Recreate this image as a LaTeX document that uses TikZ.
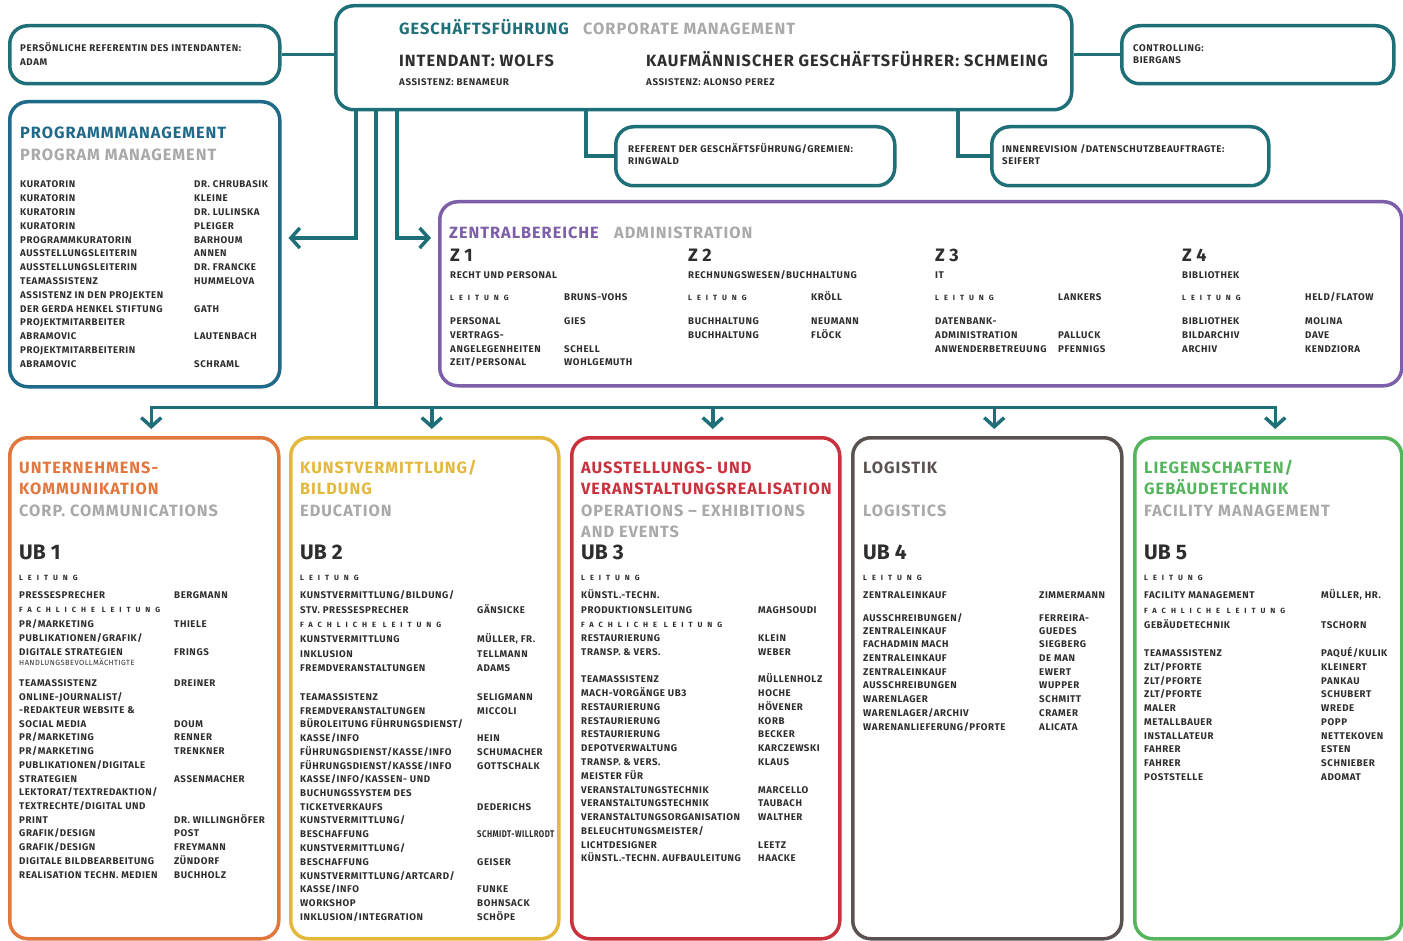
\documentclass[tikz,border=0pt]{standalone}
\usepackage{fontspec}
\usepackage{graphicx}
\setmainfont{Fira Sans}
\newfontfamily\spacedfont[LetterSpace=66]{Fira Sans}
\newfontfamily\rowfamily[LetterSpace=6]{Fira Sans}
\usetikzlibrary{arrows.meta}

\definecolor{gfteal}{HTML}{1E6F78}
\definecolor{pmblue}{HTML}{1F6A8A}
\definecolor{zbpurple}{HTML}{7D5EA8}
\definecolor{uborange}{HTML}{E2773D}
\definecolor{ubyellow}{HTML}{E3B83C}
\definecolor{ubred}{HTML}{C9313D}
\definecolor{ubdark}{HTML}{5A5250}
\definecolor{ubgreen}{HTML}{55B55C}
\definecolor{subgray}{HTML}{A9A9A9}
\definecolor{ink}{HTML}{2E2E2E}

\newcommand{\rowfont}{\rowfamily\fontsize{9.7}{11}\selectfont\bfseries}
\newcommand{\headfont}{\rowfamily\fontsize{16.3}{19}\selectfont\bfseries}
\newcommand{\spc}{\spacedfont\fontsize{7.5}{9}\selectfont\bfseries}
\newcommand{\tinyrow}{\rowfamily\fontsize{7.5}{8}\selectfont\mdseries}
% one column of text lines: name prefix, x, list of y/text
\newcommand{\textcol}[3]{\foreach \y/\txt in {#3} {\node[row] (#1-\y) at (#2,\y) {\txt};}}

\begin{document}
\begin{tikzpicture}[x=1pt, y=-1pt,
  box/.style={draw=#1, line width=3.5pt, rounded corners=18pt, fill=white, anchor=north west, inner sep=0pt},
  link/.style={draw=gfteal, line width=3.5pt},
  arr/.style={link, -{Straight Barb[length=9pt,width=20pt]}, shorten >=7pt},
  row/.style={anchor=west, inner sep=0pt, text=ink, font=\rowfont, text height=6.6pt, text depth=0pt},
  head/.style={anchor=west, inner sep=0pt, font=\headfont, text height=11.2pt, text depth=0pt},
  ubnum/.style={anchor=west, inner sep=0pt, text=ink, font=\fontsize{21}{24}\selectfont\bfseries, text height=14.5pt, text depth=0pt},
  znum/.style={ubnum, font=\fontsize{18}{20}\selectfont\bfseries, text height=12.4pt}]
\path[use as bounding box, fill=white] (0,0) rectangle (1403,941);

% top row
\node[box=gfteal, minimum width=270pt, minimum height=58pt] (pref) at (8,24) {};
\node[box=gfteal, minimum width=736pt, minimum height=104pt] (gf) at (334,4) {};
\node[box=gfteal, minimum width=272pt, minimum height=58pt] (ctrl) at (1120,24) {};
\node[box=gfteal, minimum width=279pt, minimum height=59pt] (ref) at (614,125) {};
\node[box=gfteal, minimum width=277pt, minimum height=59pt] (rev) at (990,125) {};
\node[box=pmblue, minimum width=270pt, minimum height=285pt] (pm) at (8,100) {};
\node[box=zbpurple, minimum width=962pt, minimum height=184pt] (zb) at (438,200) {};

% units
\node[box=uborange, minimum width=269pt, minimum height=501pt] (ub1) at (8,436) {};
\node[box=ubyellow, minimum width=268pt, minimum height=501pt] (ub2) at (289,436) {};
\node[box=ubred, minimum width=268pt, minimum height=501pt] (ub3) at (570,436) {};
\node[box=ubdark, minimum width=269pt, minimum height=501pt] (ub4) at (851,436) {};
\node[box=ubgreen, minimum width=267pt, minimum height=501pt] (ub5) at (1133,436) {};

% connectors
\draw[link] (pref.east) -- (pref.east -| gf.west);
\draw[link] (ctrl.west) -- (ctrl.west -| gf.east);
\draw[link] ([xshift=252pt]gf.south west) |- (ref.west);
\draw[link] ([xshift=624pt]gf.south west) |- (rev.west);
\draw[arr] ([xshift=22pt]gf.south west) |- ([yshift=-138pt]pm.north east);
\draw[arr] ([xshift=63pt]gf.south west) |- ([yshift=-38pt]zb.north west);
\draw[link] ([xshift=42pt]gf.south west) -- ++(0,296) coordinate (bus);
\foreach \u in {ub1,ub2,ub3,ub4,ub5}
  \draw[arr] (bus) -| ([xshift=7pt]\u.north);

% management
\node[head, text=gfteal] (gft) at (399,29) {GESCHÄFTSFÜHRUNG};
\node[head, text=subgray] (gfe) at (583,29) {CORPORATE MANAGEMENT};
\node[head, text=ink] (int) at (399,61) {INTENDANT: WOLFS};
\node[row] (inta) at (399,82) {ASSISTENZ: BENAMEUR};
\node[head, text=ink] (kfm) at (646,61) {KAUFMÄNNISCHER GESCHÄFTSFÜHRER: SCHMEING};
\node[row] (kfma) at (646,82) {ASSISTENZ: ALONSO PEREZ};
\textcol{pref}{20}{48/{PERSÖNLICHE REFERENTIN DES INTENDANTEN:}, 62/ADAM}
\textcol{ctrl}{1133}{48/CONTROLLING:, 60/BIERGANS}
\textcol{ref}{628}{149/{REFERENT DER GESCHÄFTSFÜHRUNG/GREMIEN:}, 161/RINGWALD}
\textcol{rev}{1002}{149/{INNENREVISION /DATENSCHUTZBEAUFTRAGTE:}, 161/SEIFERT}

% program management
\node[head, text=pmblue] (pmt) at (20,133) {PROGRAMMMANAGEMENT};
\node[head, text=subgray] (pme) at (20,155) {PROGRAM MANAGEMENT};
\textcol{pml}{20}{184/KURATORIN, 198/KURATORIN, 212/KURATORIN, 226/KURATORIN,
  240/PROGRAMMKURATORIN, 253/AUSSTELLUNGSLEITERIN, 267/AUSSTELLUNGSLEITERIN,
  281/TEAMASSISTENZ, 295/ASSISTENZ IN DEN PROJEKTEN, 309/DER GERDA HENKEL STIFTUNG,
  322/PROJEKTMITARBEITER, 336/ABRAMOVIC, 350/PROJEKTMITARBEITERIN, 364/ABRAMOVIC}
\textcol{pmn}{194}{184/DR. CHRUBASIK, 198/KLEINE, 212/DR. LULINSKA, 226/PLEIGER,
  240/BARHOUM, 253/ANNEN, 267/DR. FRANCKE, 281/HUMMELOVA, 309/GATH,
  336/LAUTENBACH, 364/SCHRAML}

% central departments
\node[head, text=zbpurple] (zbt) at (449,233) {ZENTRALBEREICHE};
\node[head, text=subgray] (zbe) at (614,233) {ADMINISTRATION};
\node[znum] (z1) at (450,255) {Z 1};
\node[znum] (z2) at (688,255) {Z 2};
\node[znum] (z3) at (935,255) {Z 3};
\node[znum] (z4) at (1182,255) {Z 4};
\textcol{z1l}{450}{275/RECHT UND PERSONAL, 297/{\spc LEITUNG}, 321/PERSONAL,
  335/VERTRAGS-, 349/ANGELEGENHEITEN, 362/{ZEIT/PERSONAL}}
\textcol{z1n}{564}{297/BRUNS-VOHS, 321/GIES, 349/SCHELL, 362/WOHLGEMUTH}
\textcol{z2l}{688}{275/{RECHNUNGSWESEN/BUCHHALTUNG}, 297/{\spc LEITUNG}, 321/BUCHHALTUNG, 335/BUCHHALTUNG}
\textcol{z2n}{811}{297/KRÖLL, 321/NEUMANN, 335/FLÖCK}
\textcol{z3l}{935}{275/IT, 297/{\spc LEITUNG}, 321/DATENBANK-, 335/ADMINISTRATION, 349/ANWENDERBETREUUNG}
\textcol{z3n}{1058}{297/LANKERS, 335/PALLUCK, 349/PFENNIGS}
\textcol{z4l}{1182}{275/BIBLIOTHEK, 297/{\spc LEITUNG}, 321/BIBLIOTHEK, 335/BILDARCHIV, 349/ARCHIV}
\textcol{z4n}{1305}{297/{HELD/FLATOW}, 321/MOLINA, 335/DAVE, 349/KENDZIORA}

% UB 1
\node[head, text=uborange] (ub1t) at (19,468) {UNTERNEHMENS-};
\node[head, text=uborange] (ub1u) at (19,489) {KOMMUNIKATION};
\node[head, text=subgray] (ub1e) at (19,511) {CORP. COMMUNICATIONS};
\node[ubnum] (ub1n) at (19,552) {UB 1};
\textcol{ub1l}{19}{577/{\spc LEITUNG}, 595/PRESSESPRECHER, 609/{\spc FACHLICHE LEITUNG},
  624/{PR/MARKETING}, 638/{PUBLIKATIONEN/GRAFIK/}, 652/DIGITALE STRATEGIEN,
  662/{\tinyrow HANDLUNGSBEVOLLMÄCHTIGTE}, 683/TEAMASSISTENZ, 697/{ONLINE-JOURNALIST/},
  710/{-REDAKTEUR WEBSITE \&}, 724/SOCIAL MEDIA, 737/{PR/MARKETING}, 751/{PR/MARKETING},
  765/{PUBLIKATIONEN/DIGITALE}, 779/STRATEGIEN, 792/{LEKTORAT/TEXTREDAKTION/},
  806/{TEXTRECHTE/DIGITAL UND}, 820/PRINT, 833/{GRAFIK/DESIGN}, 847/{GRAFIK/DESIGN},
  861/DIGITALE BILDBEARBEITUNG, 875/REALISATION TECHN. MEDIEN}
\textcol{ub1r}{174}{595/BERGMANN, 624/THIELE, 652/FRINGS, 683/DREINER, 724/DOUM,
  737/RENNER, 751/TRENKNER, 779/ASSENMACHER, 820/DR. WILLINGHÖFER, 833/POST,
  847/FREYMANN, 861/ZÜNDORF, 875/BUCHHOLZ}

% UB 2
\node[head, text=ubyellow] (ub2t) at (300,468) {KUNSTVERMITTLUNG/};
\node[head, text=ubyellow] (ub2u) at (300,489) {BILDUNG};
\node[head, text=subgray] (ub2e) at (300,511) {EDUCATION};
\node[ubnum] (ub2n) at (300,552) {UB 2};
\textcol{ub2l}{300}{577/{\spc LEITUNG}, 595/{KUNSTVERMITTLUNG/BILDUNG/}, 610/STV. PRESSESPRECHER,
  624/{\spc FACHLICHE LEITUNG}, 639/KUNSTVERMITTLUNG, 654/INKLUSION, 668/FREMDVERANSTALTUNGEN,
  697/TEAMASSISTENZ, 711/FREMDVERANSTALTUNGEN, 724/{BÜROLEITUNG FÜHRUNGSDIENST/},
  738/{KASSE/INFO}, 752/{FÜHRUNGSDIENST/KASSE/INFO}, 766/{FÜHRUNGSDIENST/KASSE/INFO},
  779/{KASSE/INFO/KASSEN- UND}, 793/BUCHUNGSSYSTEM DES, 807/TICKETVERKAUFS,
  820/{KUNSTVERMITTLUNG/}, 834/BESCHAFFUNG, 848/{KUNSTVERMITTLUNG/}, 862/BESCHAFFUNG,
  876/{KUNSTVERMITTLUNG/ARTCARD/}, 889/{KASSE/INFO}, 903/WORKSHOP, 917/{INKLUSION/INTEGRATION}}
\textcol{ub2r}{477}{610/GÄNSICKE, 639/{MÜLLER, FR.}, 654/TELLMANN, 668/ADAMS, 697/SELIGMANN,
  711/MICCOLI, 738/HEIN, 752/SCHUMACHER, 766/GOTTSCHALK, 807/DEDERICHS,
  834/{\scalebox{0.8}[1]{SCHMIDT-WILLRODT}}, 862/GEISER, 889/FUNKE, 903/BOHNSACK, 917/SCHÖPE}

% UB 3
\node[head, text=ubred] (ub3t) at (581,468) {AUSSTELLUNGS- UND};
\node[head, text=ubred] (ub3u) at (581,489) {VERANSTALTUNGSREALISATION};
\node[head, text=subgray] (ub3e) at (581,511) {OPERATIONS – EXHIBITIONS};
\node[head, text=subgray] (ub3f) at (581,532) {AND EVENTS};
\node[ubnum] (ub3n) at (581,552) {UB 3};
\textcol{ub3l}{581}{577/{\spc LEITUNG}, 595/KÜNSTL.-TECHN., 610/PRODUKTIONSLEITUNG,
  624/{\spc FACHLICHE LEITUNG}, 638/RESTAURIERUNG, 652/TRANSP. \& VERS.,
  679/TEAMASSISTENZ, 693/MACH-VORGÄNGE UB3, 707/RESTAURIERUNG, 721/RESTAURIERUNG,
  734/RESTAURIERUNG, 748/DEPOTVERWALTUNG, 762/TRANSP. \& VERS., 776/MEISTER FÜR,
  790/VERANSTALTUNGSTECHNIK, 803/VERANSTALTUNGSTECHNIK, 817/VERANSTALTUNGSORGANISATION,
  831/{BELEUCHTUNGSMEISTER/}, 845/LICHTDESIGNER, 858/KÜNSTL.-TECHN. AUFBAULEITUNG}
\textcol{ub3r}{758}{610/MAGHSOUDI, 638/KLEIN, 652/WEBER, 679/MÜLLENHOLZ, 693/HOCHE,
  707/HÖVENER, 721/KORB, 734/BECKER, 748/KARCZEWSKI, 762/KLAUS, 790/MARCELLO,
  803/TAUBACH, 817/WALTHER, 845/LEETZ, 858/HAACKE}

% UB 4
\node[head, text=ubdark] (ub4t) at (863,468) {LOGISTIK};
\node[head, text=subgray] (ub4e) at (863,511) {LOGISTICS};
\node[ubnum] (ub4n) at (863,552) {UB 4};
\textcol{ub4l}{863}{577/{\spc LEITUNG}, 595/ZENTRALEINKAUF, 618/{AUSSCHREIBUNGEN/},
  631/ZENTRALEINKAUF, 644/FACHADMIN MACH, 658/ZENTRALEINKAUF, 672/ZENTRALEINKAUF,
  685/AUSSCHREIBUNGEN, 699/WARENLAGER, 713/{WARENLAGER/ARCHIV}, 727/{WARENANLIEFERUNG/PFORTE}}
\textcol{ub4r}{1039}{595/ZIMMERMANN, 618/FERREIRA-, 631/GUEDES, 644/SIEGBERG, 658/DE MAN,
  672/EWERT, 685/WUPPER, 699/SCHMITT, 713/CRAMER, 727/ALICATA}

% UB 5
\node[head, text=ubgreen] (ub5t) at (1144,468) {LIEGENSCHAFTEN/};
\node[head, text=ubgreen] (ub5u) at (1144,489) {GEBÄUDETECHNIK};
\node[head, text=subgray] (ub5e) at (1144,511) {FACILITY MANAGEMENT};
\node[ubnum] (ub5n) at (1144,552) {UB 5};
\textcol{ub5l}{1144}{577/{\spc LEITUNG}, 595/FACILITY MANAGEMENT, 610/{\spc FACHLICHE LEITUNG},
  625/GEBÄUDETECHNIK, 653/TEAMASSISTENZ, 667/{ZLT/PFORTE}, 681/{ZLT/PFORTE}, 694/{ZLT/PFORTE},
  708/MALER, 722/METALLBAUER, 736/INSTALLATEUR, 749/FAHRER, 763/FAHRER, 777/POSTSTELLE}
\textcol{ub5r}{1321}{595/{MÜLLER, HR.}, 625/TSCHORN, 653/{PAQUÉ/KULIK}, 667/KLEINERT,
  681/PANKAU, 694/SCHUBERT, 708/WREDE, 722/POPP, 736/NETTEKOVEN, 749/ESTEN,
  763/SCHNIEBER, 777/ADOMAT}
\end{tikzpicture}
\end{document}
